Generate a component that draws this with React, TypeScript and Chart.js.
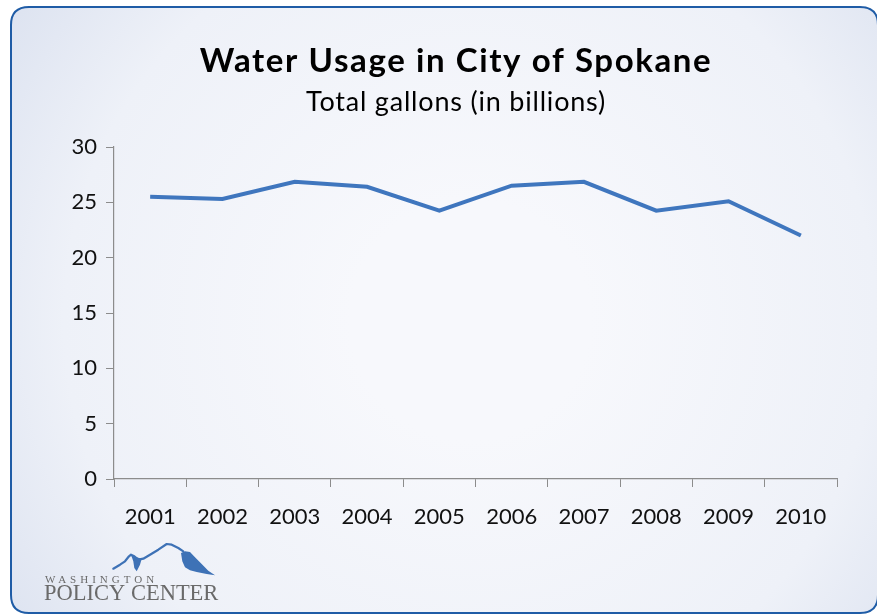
import React, { useEffect, useRef } from "react";
import { Chart, registerables } from "chart.js";

Chart.register(...registerables);

const years = ["2001", "2002", "2003", "2004", "2005", "2006", "2007", "2008", "2009", "2010"];
const gallonsBillions = [25.5, 25.3, 26.85, 26.4, 24.25, 26.5, 26.85, 24.25, 25.1, 22.0];
const yTicks = [0, 5, 10, 15, 20, 25, 30];

const titleText = "Water Usage in City of Spokane";
const subtitleText = "Total gallons (in billions)";

function poly(ctx: CanvasRenderingContext2D, pts: number[][], close: boolean) {
  ctx.beginPath();
  pts.forEach(([x, y], i) => (i ? ctx.lineTo(x, y) : ctx.moveTo(x, y)));
  if (close) ctx.closePath();
}

const backgroundPlugin = {
  id: "panelBackground",
  beforeDraw(chart: any) {
    const ctx = chart.ctx as CanvasRenderingContext2D;
    const W = chart.width;
    const H = chart.height;
    ctx.save();
    ctx.fillStyle = "#ffffff";
    ctx.fillRect(0, 0, W, H);
    const x0 = 11, y0 = 7, x1 = W + 1, y1 = H - 3, r = 18;
    ctx.beginPath();
    ctx.moveTo(x0 + r, y0);
    ctx.lineTo(x1 - r, y0);
    ctx.quadraticCurveTo(x1, y0, x1, y0 + r);
    ctx.lineTo(x1, y1 - r);
    ctx.quadraticCurveTo(x1, y1, x1 - r, y1);
    ctx.lineTo(x0 + r, y1);
    ctx.quadraticCurveTo(x0, y1, x0, y1 - r);
    ctx.lineTo(x0, y0 + r);
    ctx.quadraticCurveTo(x0, y0, x0 + r, y0);
    ctx.closePath();
    const g = ctx.createRadialGradient(470, 320, 120, 470, 320, 640);
    g.addColorStop(0, "#f7f8fc");
    g.addColorStop(0.55, "#eef1f8");
    g.addColorStop(1, "#d3dbec");
    ctx.fillStyle = g;
    ctx.fill();
    ctx.lineWidth = 2;
    ctx.strokeStyle = "#1f5ca6";
    ctx.stroke();
    ctx.restore();
  },
  afterDraw(chart: any) {
    const ctx = chart.ctx as CanvasRenderingContext2D;
    ctx.save();
    ctx.fillStyle = "#000000";
    ctx.textAlign = "center";
    ctx.textBaseline = "alphabetic";
    ctx.font = "bold 33px Lato";
    (ctx as any).letterSpacing = "1.6px";
    ctx.fillText(titleText, 456, 72);
    ctx.font = "27px Lato";
    (ctx as any).letterSpacing = "0.8px";
    ctx.fillText(subtitleText, 456, 111);

    // logo
    ctx.fillStyle = "#6a6a6a";
    ctx.textAlign = "left";
    ctx.font = "11px 'Liberation Serif'";
    (ctx as any).letterSpacing = "4px";
    ctx.fillText("WASHINGTON", 45, 583);
    (ctx as any).letterSpacing = "0px";
    ctx.font = "22.5px 'Liberation Serif'";
    ctx.fillText("POLICY CENTER", 44, 600);

    ctx.strokeStyle = "#3e72b6";
    ctx.fillStyle = "#3e72b6";
    ctx.lineWidth = 2.2;
    ctx.lineJoin = "round";
    ctx.lineCap = "round";
    poly(ctx, [
      [113.3, 568.7], [120, 564.7], [125, 561.3], [129, 556.3], [131, 554.7], [134.3, 556.3],
      [138.3, 559.7], [143.3, 558.7], [150, 554.7], [158.3, 549.7], [166.7, 544], [171.7, 544.7],
      [178.3, 548], [183.3, 551.3],
    ], false);
    ctx.stroke();
    poly(ctx, [
      [131, 554.7], [136.7, 557.3], [141.7, 558.7], [140, 564.7], [136.7, 571.3], [134.3, 568],
      [133.3, 561.3],
    ], true);
    ctx.fill();
    poly(ctx, [
      [181, 553], [185, 551.3], [190, 552], [195, 557.3], [201.7, 564], [208.3, 570.7],
      [215, 575.3], [206.7, 574], [196.7, 572], [190, 570.3], [185, 567.3], [182.3, 561.3],
    ], true);
    ctx.fill();
    ctx.restore();
  },
};

export default function App() {
  const ref = useRef<HTMLCanvasElement | null>(null);
  useEffect(() => {
    if (!ref.current) return;
    const chart = new Chart(ref.current, {
      type: "line",
      data: {
        labels: years,
        datasets: [
          {
            label: "Total gallons (in billions)",
            data: gallonsBillions,
            borderColor: "#3f76be",
            borderWidth: 4,
            pointRadius: 0,
            tension: 0,
            fill: false,
          },
        ],
      },
      options: {
        responsive: false,
        animation: false,
        layout: { padding: { left: 0, right: 40, top: 147, bottom: 0 } },
        plugins: {
          legend: { display: false },
          title: { display: false },
          tooltip: { enabled: false },
        },
        scales: {
          x: {
            type: "category",
            offset: true,
            grid: {
              offset: true,
              drawOnChartArea: false,
              drawTicks: true,
              tickLength: 8,
              color: "#8c8c8c",
            },
            border: { display: true, color: "#8c8c8c", width: 1.2 },
            ticks: {
              color: "#111111",
              font: { family: "Lato", size: 22 },
              padding: 17,
              maxRotation: 0,
              autoSkip: false,
            },
            afterFit(scale: any) {
              scale.height = 616 - 479;
            },
          },
          y: {
            min: 0,
            max: 30,
            afterBuildTicks(scale: any) {
              scale.ticks = yTicks.map((v) => ({ value: v }));
            },
            grid: {
              drawOnChartArea: false,
              drawTicks: true,
              tickLength: 8,
              color: "#8c8c8c",
            },
            border: { display: true, color: "#8c8c8c", width: 1.2 },
            ticks: {
              color: "#111111",
              font: { family: "Lato", size: 22 },
              padding: 9,
            },
            afterFit(scale: any) {
              scale.width = 114;
            },
          },
        },
      },
      plugins: [backgroundPlugin],
    });
    return () => chart.destroy();
  }, []);
  return (
    <div style={{ position: "fixed", left: 0, top: 0, width: 877, height: 616 }}>
      <canvas ref={ref} width={877} height={616} style={{ width: 877, height: 616 }} />
    </div>
  );
}
